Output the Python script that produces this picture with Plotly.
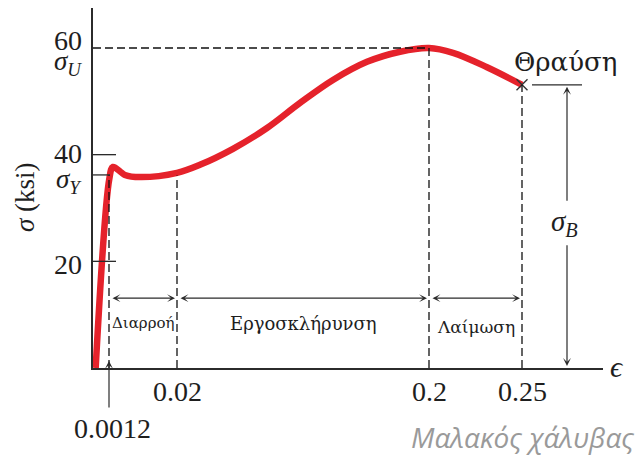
import numpy as np
import plotly.graph_objects as go

# Mild-steel engineering stress–strain curve (strain, stress in ksi)
strain = [0.0002, 0.0013, 0.0023, 0.0056, 0.0098, 0.0200, 0.0364, 0.0600,
          0.0843, 0.1079, 0.1314, 0.1557, 0.1793, 0.2000, 0.2129, 0.2312, 0.2500]
stress = [0.0, 35.5, 37.7, 36.2, 35.8, 36.6, 38.1, 41.1,
          45.0, 49.7, 54.0, 57.4, 59.3, 60.0, 59.1, 56.4, 53.1]

# Characteristic values
sigma_Y = 36.2      # yield stress
sigma_U = 60.0      # ultimate stress
sigma_B = 53.1      # fracture stress
eps_Y = 0.0012      # yield strain
eps_H = 0.02        # start of strain hardening
eps_U = 0.2         # strain at ultimate stress
eps_B = 0.25        # strain at fracture

y_ticks = [20, 40, 60]
x_ticks = [0.02, 0.2, 0.25]
x_tick_text = ["0.02", "0.2", "0.25"]

regions = ["Διαρροή", "Εργοσκλήρυνση", "Λαίμωση"]
region_bounds = [(eps_Y, eps_H), (eps_H, eps_U), (eps_U, eps_B)]

# The strain axis is drawn schematically (not to scale): piecewise-linear
# scale through the characteristic strains.
SCALE_STRAIN = [0.0, eps_Y, eps_H, eps_U, eps_B]
SCALE_POS = [0.0, 16.0, 84.0, 336.0, 429.0]


def xpos(e):
    e = np.asarray(e, dtype=float)
    return np.interp(e, SCALE_STRAIN, SCALE_POS)


W, H = 637, 458
ML, MR, MT, MB = 93, 34, 8, 90
PW = W - ML - MR
PH = H - MT - MB
Y_MAX = 67.5

INK = "#1e1e1e"
RED = "#E5222B"
SERIF = "Liberation Serif"
GREEK = "DejaVu Serif"


def paper_x(px):
    return (px - ML) / PW


def paper_y(py):
    return (H - MB - py) / PH


fig = go.Figure()

# Curve
fig.add_trace(go.Scatter(
    x=xpos(strain), y=stress, mode="lines",
    line=dict(color=RED, width=6.5, shape="spline", smoothing=1.0),
    hoverinfo="skip", showlegend=False))

# Fracture mark
fig.add_trace(go.Scatter(
    x=[float(xpos(strain[-1]))], y=[stress[-1]], mode="markers",
    marker=dict(symbol="x-thin", size=11, line=dict(color="#333333", width=1.4)),
    hoverinfo="skip", showlegend=False))

dash = dict(color="#111111", width=1.3, dash="8px,4px")
solid = dict(color="#2b2b2b", width=1.3)

shapes = []
# Dashed guides
shapes.append(dict(type="line", xref="x", yref="y", x0=0, x1=float(xpos(eps_U)),
                   y0=sigma_U, y1=sigma_U, line=dash))
for e, top in [(eps_Y, sigma_Y), (eps_H, float(np.interp(eps_H, strain, stress)) - 0.5),
               (eps_U, sigma_U), (eps_B, sigma_B)]:
    shapes.append(dict(type="line", xref="x", yref="y", x0=float(xpos(e)), x1=float(xpos(e)),
                       y0=0, y1=top, line=dash))
# Inside ticks on the stress axis
for v in [20, 40]:
    shapes.append(dict(type="line", xref="x", yref="y", x0=0, x1=23, y0=v, y1=v, line=solid))
shapes.append(dict(type="line", xref="x", yref="y", x0=0, x1=17, y0=sigma_Y, y1=sigma_Y, line=solid))
# Fracture-stress reference line
xb = float(xpos(eps_B))
shapes.append(dict(type="line", xref="x", yref="y", x0=xb + 10, x1=xb + 60,
                   y0=sigma_B, y1=sigma_B, line=solid))

annotations = []


def text(x, y, s, size, xref="x", yref="y", xshift=0, yshift=0, xanchor="center",
         yanchor="middle", color=INK, family=SERIF, angle=0):
    annotations.append(dict(x=x, y=y, xref=xref, yref=yref, text=s, showarrow=False,
                            xshift=xshift, yshift=yshift, xanchor=xanchor, yanchor=yanchor,
                            textangle=angle, font=dict(family=family, size=size, color=color)))


def arrow(x0, y0, x1, y1, both=False):
    a = dict(x=x1, y=y1, ax=x0, ay=y0, xref="x", yref="y", axref="x", ayref="y",
             text="", showarrow=True, arrowhead=3, arrowsize=1.1, arrowwidth=1.2,
             arrowcolor="#2b2b2b", standoff=2)
    if both:
        a.update(arrowside="end+start", startarrowhead=3, startarrowsize=1.1, startstandoff=2)
    annotations.append(a)


# Stress-axis labels
text(paper_x(84), 60, "60", 28, xref="paper", xanchor="right", yshift=8)
text(paper_x(84), 60, "<i>σ</i><sub><i>U</i></sub>", 27, xref="paper", xanchor="right", yshift=-15)
text(paper_x(84), 40, "40", 28, xref="paper", xanchor="right", yshift=1)
text(paper_x(84), sigma_Y, "<i>σ</i><sub><i>Y</i></sub>", 27, xref="paper", xanchor="right", yshift=-6)
text(paper_x(84), 20, "20", 28, xref="paper", xanchor="right", yshift=-3)
text(paper_x(25), paper_y(197), "<i>σ</i> (ksi)", 27, xref="paper", yref="paper", angle=-90)

# Strain-axis labels
for v, s in zip(x_ticks, x_tick_text):
    text(float(xpos(v)), 0, s, 28, yshift=-23)
text(float(xpos(eps_Y)) + 3, 0, "0.0012", 28, yshift=-60)
arrow(float(xpos(eps_Y)), -41 / (PH / Y_MAX), float(xpos(eps_Y)), 1.7)
text(paper_x(617), 0, "<i>ϵ</i>", 30, xref="paper", yshift=2)

# Region arrows and names
ARROW_LEVEL = 13.1
for name, (a, b), size, dy in zip(regions, region_bounds, [15, 18, 17], [-25, -25, -29]):
    arrow(float(xpos(a)), ARROW_LEVEL, float(xpos(b)), ARROW_LEVEL, both=True)
    text(float((xpos(a) + xpos(b)) / 2), ARROW_LEVEL, name, size, yshift=dy, family=GREEK)

# Fracture annotation
text(xb + 43, sigma_B, "Θραύση", 26, yshift=23, family=GREEK)
xs = xb + 45
label_y = 27.2
arrow(xs, label_y + 3.9, xs, sigma_B)
arrow(xs, label_y - 3.9, xs, 0)
text(xs - 3, label_y, "<i>σ</i><sub><i>B</i></sub>", 29)

# Material caption
text(paper_x(636), paper_y(437), "<i>Μαλακός χάλυβας</i>", 28, xref="paper", yref="paper",
     xanchor="right", color="#9a9a9a", family="Open Sans")

fig.update_layout(
    width=W, height=H, margin=dict(l=ML, r=MR, t=MT, b=MB),
    paper_bgcolor="white", plot_bgcolor="white",
    shapes=shapes, annotations=annotations, showlegend=False,
    xaxis=dict(range=[0, PW], showline=True, linecolor="#2b2b2b", linewidth=1.5,
               showgrid=False, zeroline=False, showticklabels=False, ticks="", fixedrange=True),
    yaxis=dict(range=[0, Y_MAX], showline=True, linecolor="#2b2b2b", linewidth=1.5,
               showgrid=False, zeroline=False, showticklabels=False, ticks="", fixedrange=True),
)

fig.write_html("out.html")
